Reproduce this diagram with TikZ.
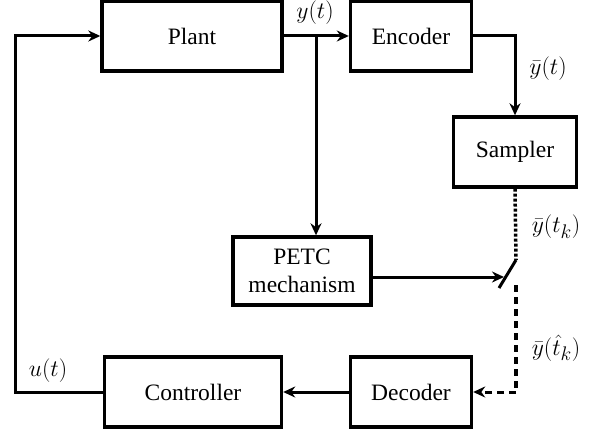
\documentclass[tikz,border=0pt]{standalone}
\usepackage{graphicx}
\usepackage{fontspec}
\setmainfont{Liberation Serif}
\usetikzlibrary{arrows.meta}
\newcommand{\mlab}[1]{\scalebox{0.95}{\Huge$#1$}}
\begin{document}
\begin{tikzpicture}[x=1pt,y=-1pt,
  blk/.style={draw,line width=3.4pt,minimum width=#1,minimum height=70pt,inner sep=0pt,align=center,font=\fontsize{23.5}{28}\selectfont},
  conn/.style={line width=3pt},
  arr/.style={conn,-{Stealth[length=12pt,width=11pt]}},
  lbl/.style={inner sep=1pt}]
\useasboundingbox (0,0) rectangle (593,430);
\node[blk=180pt] (plant) at (192,36) {Plant};
\node[blk=121pt] (enc) at (411,36) {Encoder};
\node[blk=123pt] (samp) at (515,152) {Sampler};
\node[blk=138pt,minimum height=68pt] (petc) at (302,271) {PETC\\mechanism};
\node[blk=177pt] (ctrl) at (193,392) {Controller};
\node[blk=121pt] (dec) at (411,392) {Decoder};
\coordinate (br) at (316,36);
\coordinate (sw1) at (516,260);
\coordinate (sw2) at (499,288);
\coordinate (swin) at (504,277);
\coordinate (dn) at (516,285);
\coordinate (corner) at (516,392);
\coordinate (lft) at (15,392);
\coordinate (lftt) at (15,36);
\draw[arr] (plant.east) -- (enc.west);
\draw[arr] (br) -- (petc.north -| br);
\draw[arr] (enc.east) -| (samp.north);
\draw[conn,dotted,line width=3.5pt] (samp.south) -- (sw1);
\draw[conn] (sw1) -- (sw2);
\draw[arr] (petc.east |- swin) -- (swin);
\draw[conn,dashed,line width=3.5pt,dash pattern=on 7pt off 5pt] (dn) -- (corner);
\draw[arr,dashed,dash pattern=on 7pt off 5pt] (corner) -- (dec.east);
\draw[arr] (dec.west) -- (ctrl.east);
\draw[arr] (ctrl.west) -- (lft) -- (lftt) -- (plant.west);
\node[lbl] (ly) at (315,13) {\mlab{y(t)}};
\node[lbl] (lyb) at (548,69) {\mlab{\bar y(t)}};
\node[lbl] (lytk) at (556,227) {\mlab{\bar y(t_k)}};
\node[lbl] (lyhat) at (556,348) {\mlab{\bar y(\hat t_k)}};
\node[lbl] (lu) at (48,371) {\mlab{u(t)}};
\end{tikzpicture}
\end{document}
